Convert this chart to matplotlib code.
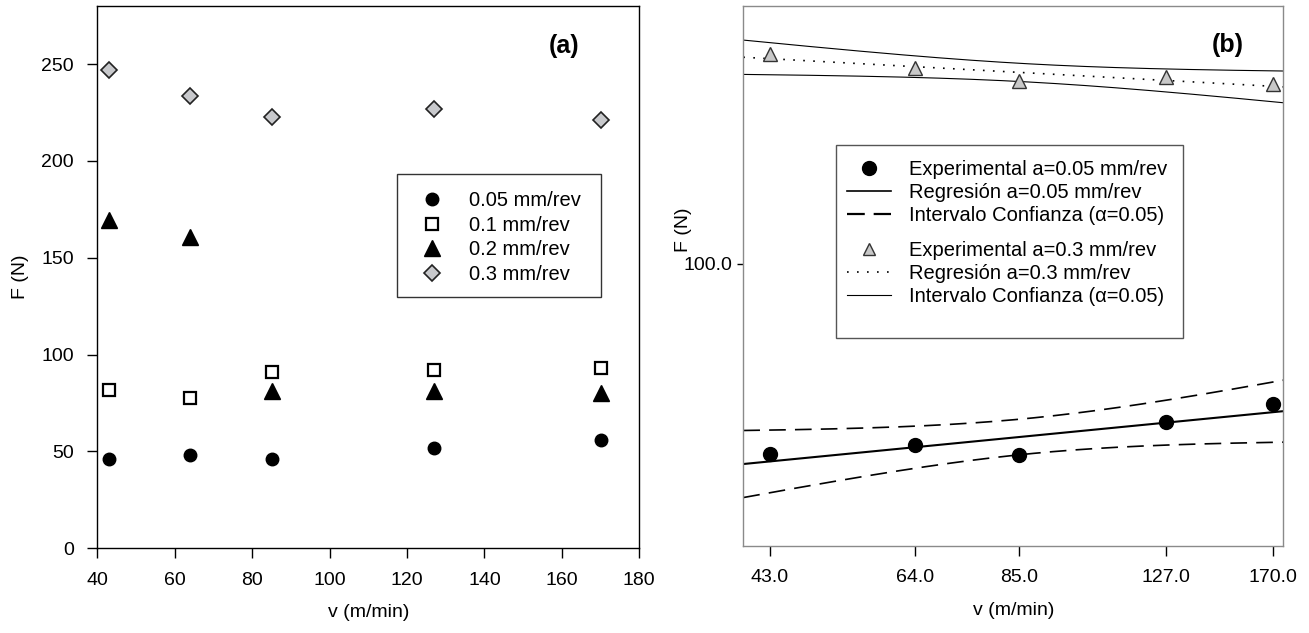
import numpy as np
import matplotlib
matplotlib.use('Agg')
import matplotlib.pyplot as plt
from matplotlib.patches import Rectangle
from matplotlib.lines import Line2D
from matplotlib.ticker import NullLocator

plt.rcParams['font.family'] = ['Liberation Sans', 'DejaVu Sans']

# ---------------- data ----------------
v = [43, 64, 85, 127, 170]

# panel (a)
F_005 = [46.3, 48.1, 46.0, 52.0, 56.0]
F_01 = [81.8, 77.7, 91.0, 92.0, 93.0]
F_02 = [169.3, 160.9, 81.4, 81.0, 80.0]
F_03 = [246.7, 233.6, 222.6, 226.6, 220.9]
labels_a = ['0.05 mm/rev', '0.1 mm/rev', '0.2 mm/rev', '0.3 mm/rev']
xticks_a = [40, 60, 80, 100, 120, 140, 160, 180]
yticks_a = [0, 50, 100, 150, 200, 250]

# panel (b)
Fb_005 = [44.4, 46.1, 44.1, 50.8, 54.9]
Fb_03 = [244.6, 230.0, 217.6, 221.8, 214.8]
xticks_b = [43.0, 64.0, 85.0, 127.0, 170.0]
yticks_b = [100.0]
labels_b1 = ['Experimental a=0.05 mm/rev', 'Regresión a=0.05 mm/rev',
             'Intervalo Confianza (α=0.05)']
labels_b2 = ['Experimental a=0.3 mm/rev', 'Regresión a=0.3 mm/rev',
             'Intervalo Confianza (α=0.05)']
t_crit = 3.182  # Student t, df=3, 95 %

FS = 14
W, H = 1309, 633
fig = plt.figure(figsize=(W / 100, H / 100), dpi=100)

# ---------------- panel (a) ----------------
axa = fig.add_axes([97.3 / W, (H - 548.3) / H, 542 / W, 542.3 / H])
axa.plot(v, F_005, 'o', color='black', ms=9, ls='none', label=labels_a[0])
axa.plot(v, F_01, 's', mfc='white', mec='black', mew=1.6, ms=8, ls='none', label=labels_a[1])
axa.plot(v, F_02, '^', color='black', ms=11, ls='none', label=labels_a[2])
axa.plot(v, F_03, 'D', mfc='#c8c9cc', mec='#222222', mew=1.2, ms=8.5, ls='none', label=labels_a[3])
axa.set_xlim(40, 180)
axa.set_ylim(0, 280)
axa.set_xticks(xticks_a)
axa.set_yticks(yticks_a)
axa.tick_params(direction='out', length=7.5, width=1, pad=9.5, labelsize=FS, colors='black')
for s in axa.spines.values():
    s.set_linewidth(1.0)
    s.set_color('black')
axa.set_xlabel('v (m/min)', fontsize=FS, labelpad=11)
axa.set_ylabel('F (N)', fontsize=FS, labelpad=9)
axa.text(0.8603, 0.9262, '(a)', transform=axa.transAxes, fontsize=18,
         fontweight='bold', ha='center', va='center')

h, l = axa.get_legend_handles_labels()
lega = axa.legend(h, l, loc='upper left', bbox_to_anchor=(0.5902, 0.6590),
                  frameon=False, borderpad=0, borderaxespad=0, fontsize=14.5,
                  handlelength=1.49, handletextpad=1.07, labelspacing=0.28)
axa.add_patch(Rectangle((0.5524, 0.4640), 0.9293 - 0.5524, 0.6902 - 0.4640,
                        transform=axa.transAxes, fill=False, ec='#333333', lw=1.0,
                        zorder=5))

# ---------------- panel (b) ----------------
axb = fig.add_axes([743.3 / W, (H - 545.7) / H, 540 / W, 539.7 / H])
axb.set_xscale('log')
axb.set_yscale('log')

xx = np.geomspace(40, 175, 200)


def fit_band(x, y):
    lx = np.log(np.asarray(x, float))
    ly = np.log(np.asarray(y, float))
    b, a = np.polyfit(lx, ly, 1)
    res = ly - (a + b * lx)
    s = np.sqrt(np.sum(res ** 2) / (len(lx) - 2))
    sxx = np.sum((lx - lx.mean()) ** 2)
    lxx = np.log(xx)
    fit = a + b * lxx
    half = t_crit * s * np.sqrt(1 / len(lx) + (lxx - lx.mean()) ** 2 / sxx)
    return np.exp(fit), np.exp(fit - half), np.exp(fit + half)


f1, lo1, hi1 = fit_band(v, Fb_005)
f3, lo3, hi3 = fit_band(v, Fb_03)

dash = (0, (10, 5.5))
dot = (0, (1, 5))
axb.plot(xx, f1, color='black', lw=1.5)
axb.plot(xx, lo1, color='black', lw=1.2, ls=dash)
axb.plot(xx, hi1, color='black', lw=1.2, ls=dash)
axb.plot(v, Fb_005, 'o', color='black', ms=10, ls='none', zorder=4)

axb.plot(xx, f3, color='black', lw=1.2, ls=dot)
axb.plot(xx, lo3, color='black', lw=0.8)
axb.plot(xx, hi3, color='black', lw=0.8)
axb.plot(v, Fb_03, '^', mfc='#c8c8c8', mec='#333333', mew=1.0, ms=10.5, ls='none', zorder=4)

axb.set_xlim(40, 175)
axb.set_ylim(30, 300)
axb.xaxis.set_minor_locator(NullLocator())
axb.yaxis.set_minor_locator(NullLocator())
axb.set_xticks(xticks_b)
axb.set_xticklabels(['%.1f' % t for t in xticks_b])
axb.set_yticks(yticks_b)
axb.set_yticklabels(['%.1f' % t for t in yticks_b])
axb.tick_params(direction='out', length=7, width=1, pad=10, labelsize=FS, colors='black')
axb.tick_params(axis='y', length=4, pad=4)
for s in axb.spines.values():
    s.set_linewidth(1.0)
    s.set_color('#8a8a8a')
axb.set_xlabel('v (m/min)', fontsize=FS, labelpad=11)
axb.set_ylabel('F (N)', fontsize=FS)
axb.yaxis.set_label_coords(-0.095, 0.585)
axb.text(0.8976, 0.9277, '(b)', transform=axb.transAxes, fontsize=18,
         fontweight='bold', ha='center', va='center')

hb1 = [Line2D([], [], marker='o', color='black', ms=10, ls='none'),
       Line2D([], [], color='black', lw=1.2),
       Line2D([], [], color='black', lw=1.6, ls=(0, (8, 4)))]
hb2 = [Line2D([], [], marker='^', mfc='#c8c8c8', mec='#333333', ms=9, ls='none'),
       Line2D([], [], color='black', lw=1.2, ls=dot),
       Line2D([], [], color='black', lw=0.8)]
common = dict(loc='upper left', frameon=False, borderpad=0, borderaxespad=0,
              fontsize=14.5, handlelength=2.21, handletextpad=0.87, labelspacing=0.2)
legb1 = axb.legend(hb1, labels_b1, bbox_to_anchor=(0.1915, 0.7150), **common)
axb.add_artist(legb1)
legb2 = axb.legend(hb2, labels_b2, bbox_to_anchor=(0.1915, 0.5650), **common)
axb.add_patch(Rectangle((0.1717, 0.3854), 0.8137 - 0.1717, 0.7424 - 0.3854,
                        transform=axb.transAxes, fill=False, ec='#555555', lw=1.0,
                        zorder=5))

fig.savefig('out.png', dpi=100)
